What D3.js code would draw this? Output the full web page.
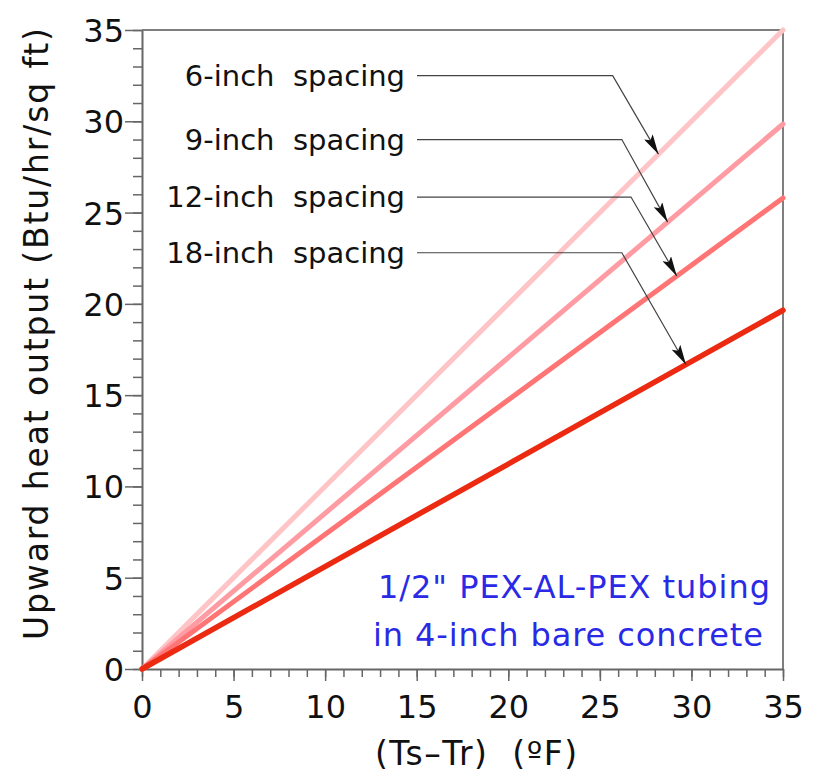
<!DOCTYPE html>
<html>
<head>
<meta charset="utf-8">
<script src="https://cdn.jsdelivr.net/npm/d3@7"></script>
<style>
  body { margin: 0; background: #fff; }
  text { font-family: "DejaVu Sans", sans-serif; }
</style>
</head>
<body>
<svg></svg>
<script>
// end value of each line at (Ts-Tr) = 35 °F
var spacings = ['6-inch  spacing', '9-inch  spacing', '12-inch  spacing', '18-inch  spacing'];
var endValues = [35, 29.85, 25.8, 19.65];
var lineColors = ['#ffc4c6', '#ff9ba3', '#ff7474', '#ec2a12'];
var lineWidths = [5, 5, 5, 5.5];
// annotation leaders: label height, elbow x, arrow tip x (data units)
var labelY = [32.5, 29.0, 25.85, 22.8];
var elbowX = [25.7, 26.2, 26.7, 26.2];
var tipX = [28.2, 28.7, 29.2, 29.7];
var xTicks = [0, 5, 10, 15, 20, 25, 30, 35];
var yTicks = [0, 5, 10, 15, 20, 25, 30, 35];
var note = ['1/2" PEX-AL-PEX tubing', 'in 4-inch bare concrete'];

var W = 825, H = 783;
var m = { left: 142, top: 30, right: 42, bottom: 114 };

var svg = d3.select('svg')
    .attr('width', W)
    .attr('height', H);

var x = d3.scaleLinear().domain([0, 35]).range([m.left, W - m.right]);
var y = d3.scaleLinear().domain([0, 35]).range([H - m.bottom, m.top]);

// frame (top + right)
svg.append('path')
    .attr('d', 'M' + x(0) + ',' + y(35) + 'H' + x(35) + 'V' + y(0))
    .attr('fill', 'none')
    .attr('stroke', '#555')
    .attr('stroke-width', 1.5);

// minor ticks
var minor = d3.range(0, 36);
svg.append('g')
    .attr('transform', 'translate(0,' + y(0) + ')')
    .call(d3.axisBottom(x).tickValues(minor).tickSize(8).tickFormat(''))
    .call(function (g) { g.select('.domain').remove(); })
    .selectAll('line').attr('stroke', '#666').attr('stroke-width', 1.5);
svg.append('g')
    .attr('transform', 'translate(' + x(0) + ',0)')
    .call(d3.axisLeft(y).tickValues(minor).tickSize(9).tickFormat(''))
    .call(function (g) { g.select('.domain').remove(); })
    .selectAll('line').attr('stroke', '#666').attr('stroke-width', 1.5);

// major ticks + labels
var xa = svg.append('g')
    .attr('transform', 'translate(0,' + y(0) + ')')
    .call(d3.axisBottom(x).tickValues(xTicks).tickSize(12).tickPadding(14).tickSizeOuter(0));
var ya = svg.append('g')
    .attr('transform', 'translate(' + x(0) + ',0)')
    .call(d3.axisLeft(y).tickValues(yTicks).tickSize(17).tickPadding(1).tickSizeOuter(0));

[xa, ya].forEach(function (a) {
    a.select('.domain').attr('stroke', '#666').attr('stroke-width', 2);
    a.selectAll('line').attr('stroke', '#666').attr('stroke-width', 1.5);
    a.selectAll('text')
        .style('font-family', '"DejaVu Sans", sans-serif')
        .style('font-size', '32px')
        .attr('fill', '#111');
});
ya.selectAll('text').attr('dy', '0.36em');

// data lines
var line = d3.line().x(function (d) { return x(d[0]); }).y(function (d) { return y(d[1]); });
spacings.forEach(function (s, i) {
    svg.append('path')
        .datum([[0, 0], [35, endValues[i]]])
        .attr('d', line)
        .attr('fill', 'none')
        .attr('stroke', lineColors[i])
        .attr('stroke-width', lineWidths[i])
        .attr('stroke-linecap', 'round');
});

// arrow marker
svg.append('defs').append('marker')
    .attr('id', 'arr')
    .attr('viewBox', '0 0 20 10')
    .attr('refX', 20).attr('refY', 5)
    .attr('markerWidth', 20).attr('markerHeight', 10)
    .attr('markerUnits', 'userSpaceOnUse')
    .attr('orient', 'auto')
    .append('path')
    .attr('d', 'M0,0L20,5L0,10L4,5Z')
    .attr('fill', '#111');

// labels with leaders
spacings.forEach(function (s, i) {
    var ly = y(labelY[i]);
    svg.append('text')
        .attr('x', 405)
        .attr('y', ly)
        .attr('dy', '0.35em')
        .attr('text-anchor', 'end')
        .style('font-size', '29px')
        .style('white-space', 'pre')
        .attr('fill', '#111')
        .text(s);
    var tx = tipX[i], ty = endValues[i] * tx / 35;
    svg.append('path')
        .attr('d', 'M417,' + ly + 'H' + x(elbowX[i]) + 'L' + x(tx) + ',' + y(ty))
        .attr('fill', 'none')
        .attr('stroke', '#444')
        .attr('stroke-width', 1.2)
        .attr('marker-end', 'url(#arr)');
});

// note
svg.append('g').selectAll('text')
    .data(note)
    .enter().append('text')
    .attr('x', function (d, i) { return i ? 373 : 378; })
    .attr('y', function (d, i) { return 598 + i * 48; })
    .attr('textLength', function (d, i) { return i ? 390 : 392; })
    .attr('lengthAdjust', 'spacing')
    .style('font-size', '32px')
    .attr('fill', '#2a2ae6')
    .text(function (d) { return d; });

// axis titles
svg.append('text')
    .attr('x', 375)
    .attr('y', 765)
    .attr('textLength', 202)
    .attr('lengthAdjust', 'spacing')
    .style('font-size', '33px')
    .style('white-space', 'pre')
    .attr('fill', '#111')
    .text('(Ts\u2013Tr)  (\u00baF)');

svg.append('text')
    .attr('transform', 'translate(48,640) rotate(-90)')
    .attr('textLength', 612)
    .attr('lengthAdjust', 'spacing')
    .style('font-size', '33px')
    .attr('fill', '#111')
    .text('Upward heat output (Btu/hr/sq ft)');
</script>
</body>
</html>
